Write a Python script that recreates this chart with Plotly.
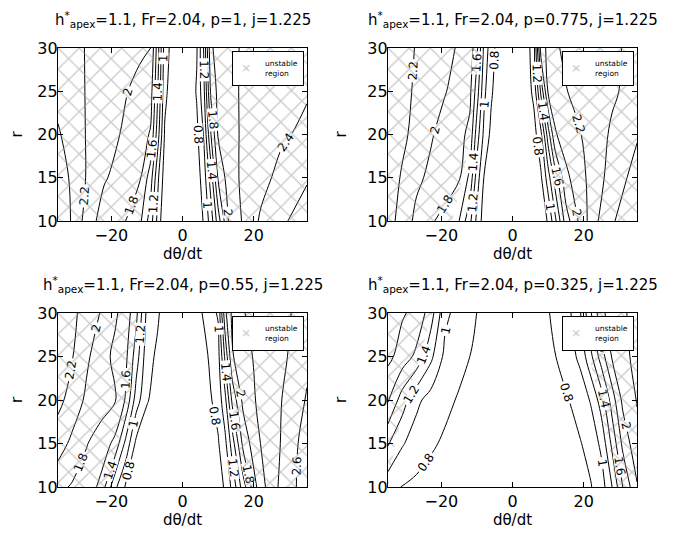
import plotly.graph_objects as go

FONT = "DejaVu Sans"
PAGE_W, PAGE_H = 673, 533
OFF = 8                      # default page body margin in front of the figure
W, H = PAGE_W - OFF, PAGE_H - OFF

# contour levels (shown as lines with labels)
LEVEL_START, LEVEL_END, LEVEL_STEP = 0.8, 2.6, 0.2
r_rows = [10, 15, 20, 25, 30]
x_ticks = [-20, 0, 20]
r_ticks = [10, 15, 20, 25, 30]

# ---------- p = 1 ----------
x_p1 = [-35, -31, -27, -22, -16, -12, -9, -7, -5, 0, 4, 6, 8, 10, 13, 17, 22, 28, 35]
z_p1 = [
    [2.55, 2.38, 2.12, 1.90, 1.80, 1.65, 1.30, 0.95, 0.60, 0.50, 0.65, 0.82, 1.10, 1.50, 2.02, 2.22, 2.43, 2.57, 2.70],
    [2.52, 2.36, 2.19, 2.02, 1.90, 1.82, 1.50, 1.05, 0.70, 0.50, 0.70, 0.90, 1.30, 1.82, 2.10, 2.24, 2.33, 2.47, 2.58],
    [2.42, 2.32, 2.19, 2.08, 1.97, 1.90, 1.78, 1.30, 0.78, 0.50, 0.75, 1.02, 1.60, 2.02, 2.12, 2.23, 2.30, 2.37, 2.45],
    [2.34, 2.28, 2.19, 2.10, 2.01, 1.95, 1.90, 1.42, 0.85, 0.50, 0.82, 1.15, 1.85, 2.05, 2.13, 2.23, 2.30, 2.35, 2.38],
    [2.30, 2.26, 2.19, 2.14, 2.08, 2.03, 2.01, 1.50, 0.90, 0.50, 0.78, 1.22, 1.98, 2.05, 2.12, 2.23, 2.28, 2.33, 2.37],
]
hatch_left_p1 = [-11.8, -10.3, -9.2, -8.5, -8.0]
hatch_right_p1 = [12.3, 9.8, 8.2, 7.3, 6.7]

# ---------- p = 0.775 ----------
x_p2 = [-35, -31, -27, -23, -19, -15, -12, -10, -8, -6, -3, 0, 4, 6, 8, 10, 12, 15, 19, 23, 28, 35]
z_p2 = [
    [2.28, 2.12, 1.95, 1.82, 1.75, 1.60, 1.25, 0.95, 0.70, 0.58, 0.48, 0.45, 0.50, 0.58, 0.68, 0.82, 1.15, 1.70, 2.05, 2.35, 2.58, 2.75],
    [2.30, 2.18, 2.04, 1.96, 1.88, 1.82, 1.55, 1.10, 0.79, 0.65, 0.52, 0.48, 0.55, 0.65, 0.77, 1.10, 1.50, 1.95, 2.13, 2.30, 2.48, 2.68],
    [2.38, 2.24, 2.14, 2.02, 1.93, 1.86, 1.75, 1.30, 0.95, 0.75, 0.58, 0.45, 0.60, 0.72, 0.95, 1.50, 1.98, 2.10, 2.19, 2.30, 2.43, 2.58],
    [2.35, 2.26, 2.17, 2.08, 2.01, 1.93, 1.85, 1.50, 1.05, 0.83, 0.62, 0.50, 0.70, 0.85, 1.45, 2.02, 2.10, 2.19, 2.27, 2.32, 2.37, 2.48],
    [2.32, 2.26, 2.19, 2.12, 2.05, 1.98, 1.92, 1.65, 1.15, 0.88, 0.65, 0.50, 0.72, 0.90, 1.90, 2.05, 2.17, 2.24, 2.28, 2.32, 2.37, 2.45],
]
hatch_left_p2 = [-17.0, -14.0, -11.8, -10.5, -9.5]
hatch_right_p2 = [14.0, 12.0, 10.5, 9.0, 7.8]

# ---------- p = 0.55 ----------
x_p3 = [-35, -31, -27, -23, -19, -16, -13, -10, -7, -4, 0, 4, 7, 10, 12, 14, 17, 21, 25, 30, 35]
z_p3 = [
    [1.85, 1.78, 1.72, 1.55, 1.05, 0.78, 0.65, 0.58, 0.55, 0.50, 0.45, 0.52, 0.62, 0.70, 0.83, 1.05, 1.50, 2.02, 2.33, 2.52, 2.72],
    [2.10, 1.95, 1.81, 1.72, 1.55, 1.15, 0.75, 0.65, 0.60, 0.52, 0.48, 0.55, 0.68, 0.78, 0.95, 1.30, 1.85, 2.17, 2.30, 2.50, 2.70],
    [2.25, 2.13, 1.96, 1.88, 1.82, 1.58, 1.10, 0.82, 0.70, 0.58, 0.50, 0.60, 0.75, 0.87, 1.15, 1.65, 2.05, 2.22, 2.33, 2.45, 2.62],
    [2.28, 2.21, 2.04, 1.88, 1.76, 1.65, 1.30, 0.88, 0.76, 0.62, 0.50, 0.65, 0.79, 0.92, 1.45, 1.98, 2.14, 2.23, 2.31, 2.41, 2.55],
    [2.30, 2.24, 2.13, 1.99, 1.83, 1.72, 1.45, 0.95, 0.83, 0.65, 0.50, 0.70, 0.90, 1.02, 1.75, 2.05, 2.19, 2.26, 2.32, 2.39, 2.48],
]
hatch_left_p3 = [-21.0, -17.5, -15.0, -13.5, -12.5]
hatch_right_p3 = [18.0, 15.5, 13.8, 12.5, 11.5]

# ---------- p = 0.325 ----------
x_p4 = [-35, -31, -27, -23, -19, -15, -11, -7, 0, 7, 11, 15, 19, 22, 25, 28, 31, 35]
z_p4 = [
    [0.88, 0.79, 0.76, 0.72, 0.68, 0.65, 0.62, 0.58, 0.50, 0.58, 0.62, 0.68, 0.74, 0.79, 0.90, 1.20, 1.60, 1.98],
    [1.22, 1.02, 0.90, 0.83, 0.77, 0.72, 0.67, 0.62, 0.50, 0.60, 0.66, 0.72, 0.79, 0.86, 1.05, 1.45, 1.85, 2.15],
    [1.62, 1.30, 1.05, 0.92, 0.85, 0.78, 0.72, 0.65, 0.50, 0.63, 0.70, 0.78, 0.87, 1.02, 1.30, 1.70, 2.05, 2.21],
    [1.85, 1.72, 1.55, 1.25, 0.95, 0.86, 0.78, 0.68, 0.50, 0.66, 0.77, 0.87, 1.05, 1.35, 1.70, 2.02, 2.15, 2.25],
    [1.90, 1.82, 1.75, 1.50, 1.05, 0.92, 0.83, 0.70, 0.50, 0.68, 0.82, 0.90, 1.18, 1.58, 1.95, 2.10, 2.18, 2.25],
]
hatch_left_p4 = [-35.0, -33.0, -30.0, -26.0, -22.5]
hatch_right_p4 = [29.0, 27.0, 24.5, 21.5, 19.5]

p_values = ["1", "0.775", "0.55", "0.325"]
h_apex, froude, j_val = "1.1", "2.04", "1.225"
legend_name = "unstable<br>region"

panels = [
    (x_p1, z_p1, hatch_left_p1, hatch_right_p1),
    (x_p2, z_p2, hatch_left_p2, hatch_right_p2),
    (x_p3, z_p3, hatch_left_p3, hatch_right_p3),
    (x_p4, z_p4, hatch_left_p4, hatch_right_p4),
]

# layout geometry (page pixels of the plot frames)
px_x = [(58, 307), (388, 637), (58, 307), (388, 637)]
px_y = [(48, 221), (48, 221), (313, 487), (313, 487)]
X_RANGE = [-35, 35]


def fx(px):
    return (px - OFF) / W


def fy(py):
    return 1 - (py - OFF) / H


fig = go.Figure()
layout_axes = {}
annotations = []
legends = {}

for i, (xs, zs, hl, hr) in enumerate(panels):
    n = "" if i == 0 else str(i + 1)
    xa, ya = "x" + n, "y" + n
    lg = "legend" + n
    xl, xr = px_x[i]
    yt, yb = px_y[i]
    xdom = [fx(xl), fx(xr)]
    ydom = [fy(yb), fy(yt)]

    # hatched unstable regions
    fill_kw = dict(
        fill="toself", mode="none", fillcolor="rgba(255,255,255,0)",
        fillpattern=dict(shape="x", fgcolor="#969696", bgcolor="rgba(255,255,255,0)",
                         size=15, solidity=0.17),
        hoverinfo="skip", xaxis=xa, yaxis=ya, legend=lg, name=legend_name,
        legendgroup="unstable" + n,
    )
    fig.add_trace(go.Scatter(x=[X_RANGE[0]] + hl + [X_RANGE[0]],
                             y=[r_rows[0]] + r_rows + [r_rows[-1]],
                             showlegend=True, **fill_kw))
    fig.add_trace(go.Scatter(x=[X_RANGE[1]] + hr + [X_RANGE[1]],
                             y=[r_rows[0]] + r_rows + [r_rows[-1]],
                             showlegend=False, **fill_kw))

    # contour lines
    fig.add_trace(go.Contour(
        x=xs, y=r_rows, z=zs,
        contours=dict(start=LEVEL_START, end=LEVEL_END, size=LEVEL_STEP,
                      coloring="lines", showlabels=True,
                      labelfont=dict(family=FONT, size=12, color="black")),
        line=dict(width=1, smoothing=1),
        colorscale=[[0, "black"], [1, "black"]], showscale=False,
        hoverinfo="skip", showlegend=False, xaxis=xa, yaxis=ya,
    ))

    layout_axes["xaxis" + n] = dict(
        domain=xdom, anchor=ya, range=X_RANGE, tickvals=x_ticks,
        ticks="inside", ticklen=5, tickcolor="black", showline=True,
        linecolor="black", linewidth=1.4, mirror="ticks", showgrid=False,
        zeroline=False, automargin=False,
        tickfont=dict(family=FONT, size=16, color="black"),
        title=dict(text="dθ/dt", font=dict(family=FONT, size=15, color="black"),
                   standoff=2),
    )
    layout_axes["yaxis" + n] = dict(
        domain=ydom, anchor=xa, range=[10, 30], tickvals=r_ticks,
        ticks="inside", ticklen=5, tickcolor="black", showline=True,
        linecolor="black", linewidth=1.4, mirror="ticks", showgrid=False,
        zeroline=False, automargin=False, ticklabelstandoff=-4,
        tickfont=dict(family=FONT, size=16, color="black"),
        title=dict(text="r", font=dict(family=FONT, size=15, color="black"),
                   standoff=16),
    )

    legends[lg] = dict(
        x=fx(xr - 3), xanchor="right", y=fy(yt + 3), yanchor="top",
        bgcolor="white", bordercolor="black", borderwidth=1,
        font=dict(family=FONT, size=7.5, color="black"),
        itemwidth=30, tracegroupgap=0, indentation=-8,
    )

    annotations.append(dict(
        text=f"h<sup>*</sup><sub>apex</sub>=" + h_apex + ", Fr=" + froude
             + ", p=" + p_values[i] + ", j=" + j_val,
        xref="paper", yref="paper", x=fx((xl + xr) / 2), y=fy(yt - 16),
        xanchor="center", yanchor="bottom", showarrow=False,
        font=dict(family=FONT, size=15, color="black"),
    ))

fig.update_layout(
    width=W, height=H,
    margin=dict(l=0, r=0, t=0, b=0, pad=0, autoexpand=False),
    paper_bgcolor="white", plot_bgcolor="white",
    font=dict(family=FONT, color="black"),
    annotations=annotations,
    **layout_axes, **legends,
)

fig.write_html("out.html")
